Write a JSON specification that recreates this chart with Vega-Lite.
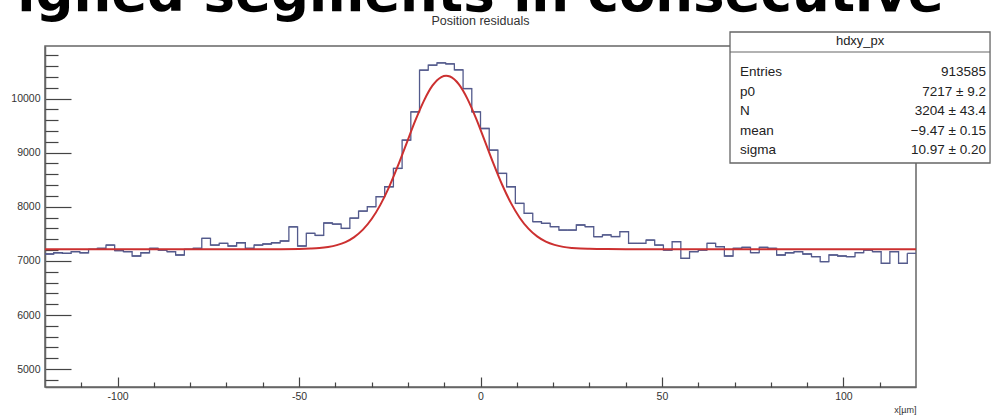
{
  "$schema": "https://vega.github.io/schema/vega-lite/v6.json",
  "width": 871,
  "height": 341,
  "autosize": {"type": "none"},
  "padding": {"left": 45, "top": 46, "right": 78, "bottom": 32},
  "background": "white",
  "title": {
    "text": "igned segments in consecutive\u00a0\u00a0",
    "subtitle": "Position residuals",
    "anchor": "middle",
    "frame": "group",
    "font": "DejaVu Sans",
    "fontWeight": "bold",
    "fontSize": 53,
    "color": "#000000",
    "offset": 0,
    "dy": -4,
    "subtitlePadding": -7,
    "subtitleFont": "Liberation Sans",
    "subtitleFontSize": 12.5,
    "subtitleColor": "#333333"
  },
  "config": {
    "view": {"stroke": "#666666", "strokeWidth": 1.5},
    "axis": {"grid": false}
  },
  "datasets": {
    "hist": [
      {"lo":-120,"hi":-117.6,"n":7127},{"lo":-117.6,"hi":-115.2,"n":7150},{"lo":-115.2,"hi":-112.8,"n":7140},{"lo":-112.8,"hi":-110.4,"n":7170},
      {"lo":-110.4,"hi":-108,"n":7150},{"lo":-108,"hi":-105.6,"n":7213},{"lo":-105.6,"hi":-103.2,"n":7232},{"lo":-103.2,"hi":-100.8,"n":7293},
      {"lo":-100.8,"hi":-98.4,"n":7190},{"lo":-98.4,"hi":-96,"n":7170},{"lo":-96,"hi":-93.6,"n":7090},{"lo":-93.6,"hi":-91.2,"n":7150},
      {"lo":-91.2,"hi":-88.8,"n":7232},{"lo":-88.8,"hi":-86.4,"n":7200},{"lo":-86.4,"hi":-84,"n":7170},{"lo":-84,"hi":-81.6,"n":7109},
      {"lo":-81.6,"hi":-79.2,"n":7213},{"lo":-79.2,"hi":-76.8,"n":7232},{"lo":-76.8,"hi":-74.4,"n":7416},{"lo":-74.4,"hi":-72,"n":7293},
      {"lo":-72,"hi":-69.6,"n":7324},{"lo":-69.6,"hi":-67.2,"n":7275},{"lo":-67.2,"hi":-64.8,"n":7335},{"lo":-64.8,"hi":-62.4,"n":7232},
      {"lo":-62.4,"hi":-60,"n":7293},{"lo":-60,"hi":-57.6,"n":7312},{"lo":-57.6,"hi":-55.2,"n":7335},{"lo":-55.2,"hi":-52.8,"n":7367},
      {"lo":-52.8,"hi":-50.4,"n":7630},{"lo":-50.4,"hi":-48,"n":7275},{"lo":-48,"hi":-45.6,"n":7509},{"lo":-45.6,"hi":-43.2,"n":7470},
      {"lo":-43.2,"hi":-40.8,"n":7700},{"lo":-40.8,"hi":-38.4,"n":7680},{"lo":-38.4,"hi":-36,"n":7600},{"lo":-36,"hi":-33.6,"n":7790},
      {"lo":-33.6,"hi":-31.2,"n":7920},{"lo":-31.2,"hi":-28.8,"n":8001},{"lo":-28.8,"hi":-26.4,"n":8186},{"lo":-26.4,"hi":-24,"n":8370},
      {"lo":-24,"hi":-21.6,"n":8708},{"lo":-21.6,"hi":-19.2,"n":9231},{"lo":-19.2,"hi":-16.8,"n":9754},{"lo":-16.8,"hi":-14.4,"n":10523},
      {"lo":-14.4,"hi":-12,"n":10615},{"lo":-12,"hi":-9.6,"n":10658},{"lo":-9.6,"hi":-7.2,"n":10640},{"lo":-7.2,"hi":-4.8,"n":10530},
      {"lo":-4.8,"hi":-2.4,"n":10184},{"lo":-2.4,"hi":0,"n":9754},{"lo":0,"hi":2.4,"n":9446},{"lo":2.4,"hi":4.8,"n":9046},
      {"lo":4.8,"hi":7.2,"n":8616},{"lo":7.2,"hi":9.6,"n":8370},{"lo":9.6,"hi":12,"n":8062},{"lo":12,"hi":14.4,"n":7878},
      {"lo":14.4,"hi":16.8,"n":7724},{"lo":16.8,"hi":19.2,"n":7694},{"lo":19.2,"hi":21.6,"n":7632},{"lo":21.6,"hi":24,"n":7570},
      {"lo":24,"hi":26.4,"n":7570},{"lo":26.4,"hi":28.8,"n":7663},{"lo":28.8,"hi":31.2,"n":7632},{"lo":31.2,"hi":33.6,"n":7447},
      {"lo":33.6,"hi":36,"n":7480},{"lo":36,"hi":38.4,"n":7450},{"lo":38.4,"hi":40.8,"n":7540},{"lo":40.8,"hi":43.2,"n":7324},
      {"lo":43.2,"hi":45.6,"n":7324},{"lo":45.6,"hi":48,"n":7385},{"lo":48,"hi":50.4,"n":7293},{"lo":50.4,"hi":52.8,"n":7201},
      {"lo":52.8,"hi":55.2,"n":7355},{"lo":55.2,"hi":57.6,"n":7047},{"lo":57.6,"hi":60,"n":7170},{"lo":60,"hi":62.4,"n":7201},
      {"lo":62.4,"hi":64.8,"n":7324},{"lo":64.8,"hi":67.2,"n":7262},{"lo":67.2,"hi":69.6,"n":7090},{"lo":69.6,"hi":72,"n":7232},
      {"lo":72,"hi":74.4,"n":7250},{"lo":74.4,"hi":76.8,"n":7152},{"lo":76.8,"hi":79.2,"n":7250},{"lo":79.2,"hi":81.6,"n":7232},
      {"lo":81.6,"hi":84,"n":7109},{"lo":84,"hi":86.4,"n":7150},{"lo":86.4,"hi":88.8,"n":7170},{"lo":88.8,"hi":91.2,"n":7127},
      {"lo":91.2,"hi":93.6,"n":7078},{"lo":93.6,"hi":96,"n":6986},{"lo":96,"hi":98.4,"n":7109},{"lo":98.4,"hi":100.8,"n":7090},
      {"lo":100.8,"hi":103.2,"n":7078},{"lo":103.2,"hi":105.6,"n":7152},{"lo":105.6,"hi":108,"n":7201},{"lo":108,"hi":110.4,"n":7170},
      {"lo":110.4,"hi":112.8,"n":6955},{"lo":112.8,"hi":115.2,"n":7170},{"lo":115.2,"hi":117.6,"n":6955},{"lo":117.6,"hi":120,"n":7140}
    ],
    "fit": [
      {"x":-120,"f":7217},{"x":-60,"f":7217},{"x":-55,"f":7217},{"x":-50,"f":7220},{"x":-46.8,"f":7227},{"x":-44.4,"f":7237},
      {"x":-42,"f":7257},{"x":-39.6,"f":7291},{"x":-37.2,"f":7348},{"x":-34.8,"f":7440},{"x":-32.4,"f":7577},{"x":-30,"f":7773},
      {"x":-27.6,"f":8035},{"x":-25.2,"f":8363},{"x":-22.8,"f":8749},{"x":-20.4,"f":9168},{"x":-18,"f":9585},{"x":-15.6,"f":9957},
      {"x":-13.2,"f":10241},{"x":-10.8,"f":10397},{"x":-9.47,"f":10421},{"x":-8.4,"f":10406},{"x":-6,"f":10265},{"x":-3.6,"f":9994},
      {"x":-1.2,"f":9628},{"x":1.2,"f":9213},{"x":3.6,"f":8793},{"x":6,"f":8402},{"x":8.4,"f":8067},{"x":10.8,"f":7798},
      {"x":13.2,"f":7595},{"x":15.6,"f":7452},{"x":18,"f":7356},{"x":20.4,"f":7296},{"x":22.8,"f":7259},{"x":25.2,"f":7239},
      {"x":27.6,"f":7227},{"x":30,"f":7222},{"x":35,"f":7218},{"x":40,"f":7217},{"x":120,"f":7217}
    ],
    "box": [{"name": "hdxy_px"}],
    "stats": [
      {"stat": "Entries", "value": "913585"},
      {"stat": "p0", "value": "7217 ± 9.2"},
      {"stat": "N", "value": "3204 ± 43.4"},
      {"stat": "mean", "value": "−9.47 ± 0.15"},
      {"stat": "sigma", "value": "10.97 ± 0.20"}
    ]
  },
  "layer": [
    {
      "data": {"name": "hist"},
      "mark": {"type": "rule", "color": "#535a8c", "strokeWidth": 1.3},
      "encoding": {
        "x": {"field": "lo", "type": "quantitative",
          "scale": {"domain": [-120, 120], "nice": false, "zero": false},
          "axis": {"orient": "bottom", "values": [-100, -50, 0, 50, 100], "tickSize": -10, "labelPadding": 14,
            "labelFont": "Liberation Sans", "labelFontSize": 10.5, "labelColor": "#333333", "labelFlush": false,
            "labelExpr": "replace(datum.label, '−', '-')",
            "tickColor": "#444444", "tickWidth": 1.2, "domainColor": "#666666", "domainWidth": 1.5,
            "title": "x[µm]", "titleAnchor": "end", "titleAlign": "right", "titleFont": "Liberation Sans",
            "titleFontSize": 9, "titleFontWeight": "normal", "titleColor": "#333333", "titlePadding": 4}},
        "x2": {"field": "hi"},
        "y": {"field": "n", "type": "quantitative",
          "scale": {"domain": [4670, 10970], "nice": false, "zero": false},
          "axis": {"orient": "left", "values": [5000, 6000, 7000, 8000, 9000, 10000], "format": "d", "tickSize": -26, "labelPadding": 31,
            "labelFont": "Liberation Sans", "labelFontSize": 10.5, "labelColor": "#333333",
            "tickColor": "#444444", "tickWidth": 1.2, "domainColor": "#666666", "domainWidth": 1.5, "title": null}}
      }
    },
    {
      "data": {"name": "hist"},
      "mark": {"type": "line", "interpolate": "step-after", "color": "#535a8c", "strokeWidth": 1.3},
      "encoding": {
        "x": {"field": "lo", "type": "quantitative",
          "scale": {"domain": [-120, 120], "nice": false, "zero": false},
          "axis": {"orient": "bottom", "values": [-110, -90, -80, -70, -60, -40, -30, -20, -10, 10, 20, 30, 40, 60, 70, 80, 90, 110],
            "tickSize": -5, "labels": false, "domain": false, "tickColor": "#444444", "tickWidth": 1.2, "title": null}},
        "y": {"field": "n", "type": "quantitative",
          "scale": {"domain": [4670, 10970], "nice": false, "zero": false},
          "axis": {"orient": "left", "values": [4800, 5200, 5400, 5600, 5800, 6200, 6400, 6600, 6800, 7200, 7400, 7600, 7800, 8200, 8400, 8600, 8800, 9200, 9400, 9600, 9800, 10200, 10400, 10600, 10800],
            "tickSize": -13, "labels": false, "domain": false, "tickColor": "#444444", "tickWidth": 1.2, "title": null}}
      }
    },
    {
      "data": {"name": "fit"},
      "mark": {"type": "line", "interpolate": "monotone", "color": "#cc3030", "strokeWidth": 2},
      "encoding": {
        "x": {"field": "x", "type": "quantitative", "scale": {"domain": [-120, 120], "nice": false, "zero": false}, "axis": null},
        "y": {"field": "f", "type": "quantitative", "scale": {"domain": [4670, 10970], "nice": false, "zero": false}, "axis": null}
      }
    },
    {
      "data": {"name": "box"},
      "mark": {"type": "rect", "fill": "white", "stroke": "#666666", "strokeWidth": 1.3, "clip": false},
      "encoding": {
        "x": {"datum": 68.75, "type": "quantitative", "scale": {"domain": [-120, 120], "nice": false, "zero": false}, "axis": null},
        "x2": {"datum": 140.4},
        "y": {"datum": 11229, "type": "quantitative", "scale": {"domain": [4670, 10970], "nice": false, "zero": false}, "axis": null},
        "y2": {"datum": 8808}
      }
    },
    {
      "data": {"name": "box"},
      "mark": {"type": "rule", "stroke": "#666666", "strokeWidth": 1.2, "clip": false},
      "encoding": {
        "x": {"datum": 68.75, "type": "quantitative", "scale": {"domain": [-120, 120], "nice": false, "zero": false}, "axis": null},
        "x2": {"datum": 140.4},
        "y": {"datum": 10859, "type": "quantitative", "scale": {"domain": [4670, 10970], "nice": false, "zero": false}, "axis": null}
      }
    },
    {
      "data": {"name": "box"},
      "mark": {"type": "text", "font": "Liberation Sans", "fontSize": 13, "color": "#222222", "align": "center", "baseline": "middle"},
      "encoding": {
        "text": {"field": "name"},
        "x": {"datum": 104.6, "type": "quantitative", "scale": {"domain": [-120, 120], "nice": false, "zero": false}, "axis": null},
        "y": {"datum": 11062, "type": "quantitative", "scale": {"domain": [4670, 10970], "nice": false, "zero": false}, "axis": null}
      }
    },
    {
      "data": {"name": "stats"},
      "mark": {"type": "text", "font": "Liberation Sans", "fontSize": 13.5, "color": "#222222", "align": "left", "baseline": "middle"},
      "encoding": {
        "text": {"field": "stat"},
        "x": {"datum": 71.5, "type": "quantitative", "scale": {"domain": [-120, 120], "nice": false, "zero": false}, "axis": null},
        "y": {"field": "stat", "type": "ordinal", "sort": null, "scale": {"type": "point", "range": [26, 104], "padding": 0}, "axis": null}
      }
    },
    {
      "data": {"name": "stats"},
      "mark": {"type": "text", "font": "Liberation Sans", "fontSize": 13.5, "color": "#222222", "align": "right", "baseline": "middle"},
      "encoding": {
        "text": {"field": "value"},
        "x": {"datum": 139.3, "type": "quantitative", "scale": {"domain": [-120, 120], "nice": false, "zero": false}, "axis": null},
        "y": {"field": "stat", "type": "ordinal", "sort": null, "scale": {"type": "point", "range": [26, 104], "padding": 0}, "axis": null}
      }
    }
  ],
  "resolve": {"scale": {"y": "independent"}, "axis": {"x": "independent", "y": "independent"}}
}
